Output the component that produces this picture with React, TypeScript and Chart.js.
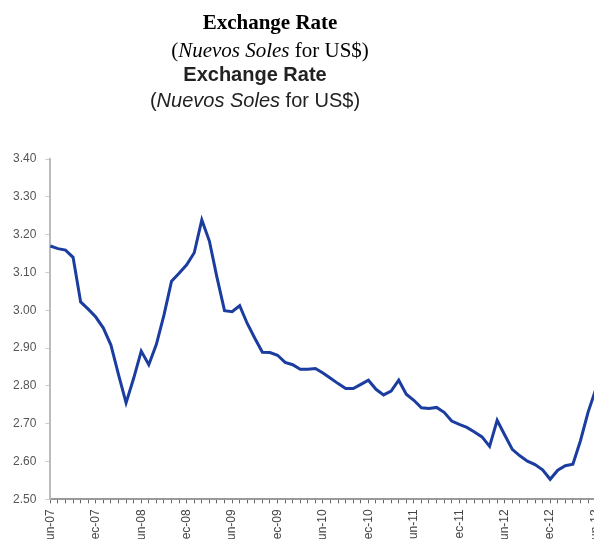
import React, { useEffect, useRef } from "react";
import { Chart, registerables } from "chart.js";

Chart.register(...registerables);

const MONTH_LABELS: string[] = [
  "Jun-07", "Jul-07", "Aug-07", "Sep-07", "Oct-07", "Nov-07", "Dec-07",
  "Jan-08", "Feb-08", "Mar-08", "Apr-08", "May-08", "Jun-08", "Jul-08", "Aug-08", "Sep-08", "Oct-08", "Nov-08", "Dec-08",
  "Jan-09", "Feb-09", "Mar-09", "Apr-09", "May-09", "Jun-09", "Jul-09", "Aug-09", "Sep-09", "Oct-09", "Nov-09", "Dec-09",
  "Jan-10", "Feb-10", "Mar-10", "Apr-10", "May-10", "Jun-10", "Jul-10", "Aug-10", "Sep-10", "Oct-10", "Nov-10", "Dec-10",
  "Jan-11", "Feb-11", "Mar-11", "Apr-11", "May-11", "Jun-11", "Jul-11", "Aug-11", "Sep-11", "Oct-11", "Nov-11", "Dec-11",
  "Jan-12", "Feb-12", "Mar-12", "Apr-12", "May-12", "Jun-12", "Jul-12", "Aug-12", "Sep-12", "Oct-12", "Nov-12", "Dec-12",
  "Jan-13", "Feb-13", "Mar-13", "Apr-13", "May-13", "Jun-13",
];

const EXCHANGE_RATE: number[] = [
  3.170, 3.163, 3.159, 3.140, 3.022, 3.003, 2.982,
  2.953, 2.908, 2.830, 2.755, 2.820, 2.892, 2.856, 2.910, 2.987, 3.077, 3.098, 3.120,
  3.152, 3.239, 3.183, 3.087, 2.999, 2.996, 3.012, 2.965, 2.926, 2.889, 2.888, 2.881,
  2.862, 2.856, 2.844, 2.844, 2.846, 2.834, 2.820, 2.806, 2.793, 2.793, 2.804, 2.815,
  2.791, 2.776, 2.786, 2.815, 2.778, 2.762, 2.742, 2.740, 2.743, 2.730, 2.707, 2.698,
  2.690, 2.678, 2.665, 2.640, 2.709, 2.670, 2.632, 2.615, 2.601, 2.592, 2.578, 2.553,
  2.577, 2.589, 2.593, 2.655, 2.730, 2.790,
];

const Y_MIN = 2.5;
const Y_MAX = 3.4;
const Y_STEP = 0.1;

const SANS = "'Liberation Sans', Arial, Helvetica, sans-serif";

const chartTitlePlugin = {
  id: "chartTitle",
  afterDraw(chart: any) {
    const ctx = chart.ctx as CanvasRenderingContext2D;
    const cx = 255;
    ctx.save();
    ctx.fillStyle = "#222";
    ctx.textBaseline = "alphabetic";
    ctx.textAlign = "center";
    ctx.font = `bold 20px ${SANS}`;
    ctx.fillText("Exchange Rate", cx, 81);
    const parts: [string, string][] = [
      ["(", `20px ${SANS}`],
      ["Nuevos Soles", `italic 20px ${SANS}`],
      [" for US$)", `20px ${SANS}`],
    ];
    let total = 0;
    for (const [t, f] of parts) {
      ctx.font = f;
      total += ctx.measureText(t).width;
    }
    let x = cx - total / 2;
    ctx.textAlign = "left";
    for (const [t, f] of parts) {
      ctx.font = f;
      ctx.fillText(t, x, 107);
      x += ctx.measureText(t).width;
    }
    ctx.restore();
  },
};

export default function App() {
  const canvasRef = useRef<HTMLCanvasElement | null>(null);

  useEffect(() => {
    if (!canvasRef.current) return;
    const chart = new Chart(canvasRef.current, {
      type: "line",
      data: {
        labels: MONTH_LABELS,
        datasets: [
          {
            label: "Exchange Rate",
            data: EXCHANGE_RATE,
            borderColor: "#1b3d9f",
            borderWidth: 3,
            pointRadius: 0,
            tension: 0,
            fill: false,
          },
        ],
      },
      options: {
        animation: false,
        responsive: false,
        devicePixelRatio: 1,
        layout: { padding: { top: 159, left: 4, right: 0, bottom: 0 } },
        plugins: {
          legend: { display: false },
          title: { display: false },
          tooltip: { enabled: false },
        },
        scales: {
          x: {
            type: "category",
            offset: false,
            grid: {
              display: true,
              drawOnChartArea: false,
              drawTicks: true,
              tickLength: 4,
              color: "#666",
              lineWidth: 1,
            },
            border: { display: true, color: "#999", width: 2 },
            ticks: {
              autoSkip: false,
              minRotation: 90,
              maxRotation: 90,
              padding: 6,
              color: "#444",
              font: { family: SANS, size: 12 },
              callback: (_v: any, i: number) => (i % 6 === 0 ? MONTH_LABELS[i] : ""),
            },
          },
          y: {
            min: Y_MIN,
            max: Y_MAX,
            grid: {
              display: true,
              drawOnChartArea: false,
              drawTicks: true,
              tickLength: 5,
              color: "#ccc",
            },
            border: { display: true, color: "#bbb", width: 2 },
            ticks: {
              stepSize: Y_STEP,
              padding: 9,
              color: "#555",
              font: { family: SANS, size: 12 },
              callback: (v: any) => Number(v).toFixed(2),
            },
          },
        },
      },
      plugins: [chartTitlePlugin],
    });
    return () => chart.destroy();
  }, []);

  return (
    <div
      style={{
        position: "fixed",
        left: 0,
        top: 0,
        width: 594,
        height: 539,
        overflow: "hidden",
        background: "#fff",
      }}
    >
      <canvas
        ref={canvasRef}
        width={616}
        height={554}
        style={{ position: "absolute", left: 0, top: 0, width: 616, height: 554 }}
      />
      <div
        style={{
          position: "absolute",
          left: 0,
          top: 12,
          width: 540,
          textAlign: "center",
          fontFamily: "'Liberation Serif', 'Times New Roman', serif",
          fontSize: 21,
          lineHeight: 1,
          fontWeight: "bold",
          color: "#000",
        }}
      >
        Exchange Rate
      </div>
      <div
        style={{
          position: "absolute",
          left: 0,
          top: 40,
          width: 540,
          textAlign: "center",
          fontFamily: "'Liberation Serif', 'Times New Roman', serif",
          fontSize: 21,
          lineHeight: 1,
          color: "#000",
        }}
      >
        (<i>Nuevos Soles</i> for US$)
      </div>
    </div>
  );
}
